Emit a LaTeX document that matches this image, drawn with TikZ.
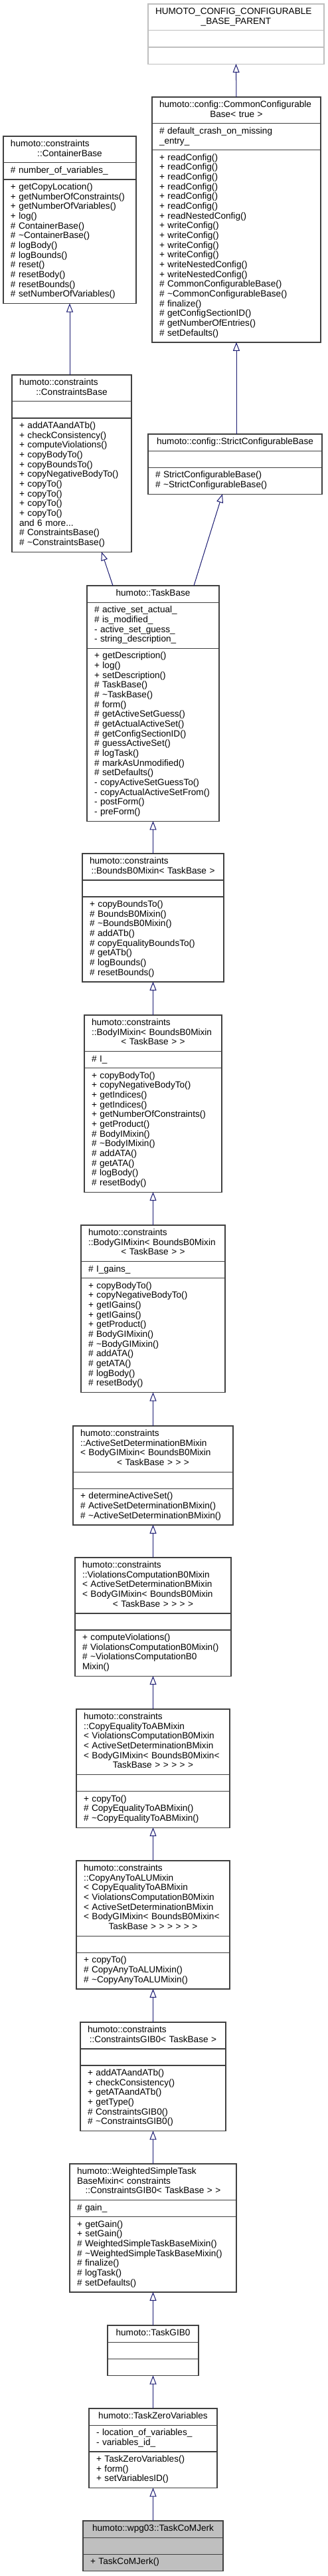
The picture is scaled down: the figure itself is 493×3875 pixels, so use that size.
\documentclass[tikz,border=0pt]{standalone}
\usepackage{fontspec}
\setmainfont{Liberation Sans}
\usetikzlibrary{shapes.multipart,arrows.meta}

\definecolor{boxline}{HTML}{404040}
\definecolor{parentline}{HTML}{BFBFBF}
\definecolor{edgeblue}{HTML}{191970}
\definecolor{current}{HTML}{BFBFBF}

% member lines (public / protected / private) and title lines
\newcommand{\pub}[1]{\mbox{+ #1}}
\newcommand{\prot}[1]{\mbox{\# #1}}
\newcommand{\priv}[1]{\mbox{- #1}}
\newcommand{\hd}[1]{\mbox{#1}}
\newcommand{\hdc}[1]{\hspace*{\fill}\mbox{#1}\hspace*{\fill}}
\newcommand{\umlparts}[3]{\strut#1\strut\nodepart{second}\strut#2\strut\nodepart{third}\strut#3\strut}

\begin{document}
\begin{tikzpicture}[
    x=1pt, y=1pt,
    font=\fontsize{13.6}{14.67}\selectfont,
    umlclass/.style={rectangle split, rectangle split parts=3, draw=boxline, line width=1.3pt, inner xsep=11pt, inner ysep=4.6pt, outer sep=0pt, align=left, anchor=north},
    inherit/.style={-{Triangle[open, length=13pt, width=10pt]}, draw=edgeblue, line width=1pt}
]
\useasboundingbox (0,0) rectangle (493,-3875);

% config branch
\node[umlclass, draw=parentline, text width=243pt] (hcp) at (355.5,-6)
  {\umlparts{\hd{HUMOTO\_CONFIG\_CONFIGURABLE}\\\hdc{\_BASE\_PARENT}}{}{}};
\node[umlclass, text width=232pt] (ccb) at (356,-146)
  {\umlparts{\hd{humoto::config::CommonConfigurable}\\\hdc{Base< true >}}
  {\prot{default\_crash\_on\_missing}\\\hd{\_entry\_}}
  {\pub{readConfig()}\\\pub{readConfig()}\\\pub{readConfig()}\\\pub{readConfig()}\\\pub{readConfig()}\\\pub{readConfig()}\\
   \pub{readNestedConfig()}\\\pub{writeConfig()}\\\pub{writeConfig()}\\\pub{writeConfig()}\\\pub{writeConfig()}\\
   \pub{writeNestedConfig()}\\\pub{writeNestedConfig()}\\\prot{CommonConfigurableBase()}\\
   \prot{\textasciitilde CommonConfigurableBase()}\\\prot{finalize()}\\\prot{getConfigSectionID()}\\
   \prot{getNumberOfEntries()}\\\prot{setDefaults()}}};
\node[umlclass, text width=240pt] (scb) at (354,-653)
  {\umlparts{\hdc{humoto::config::StrictConfigurableBase}}{}
  {\prot{StrictConfigurableBase()}\\\prot{\textasciitilde StrictConfigurableBase()}}};

% constraints branch
\node[umlclass, text width=178pt] (cnb) at (105,-205)
  {\umlparts{\hd{humoto::constraints}\\\hdc{::ContainerBase}}
  {\prot{number\_of\_variables\_}}
  {\pub{getCopyLocation()}\\\pub{getNumberOfConstraints()}\\\pub{getNumberOfVariables()}\\\pub{log()}\\
   \prot{ContainerBase()}\\\prot{\textasciitilde ContainerBase()}\\\prot{logBody()}\\\prot{logBounds()}\\
   \prot{reset()}\\\prot{resetBody()}\\\prot{resetBounds()}\\\prot{setNumberOfVariables()}}};
\node[umlclass, text width=158pt] (ctb) at (108,-564)
  {\umlparts{\hd{humoto::constraints}\\\hdc{::ConstraintsBase}}{}
  {\pub{addATAandATb()}\\\pub{checkConsistency()}\\\pub{computeViolations()}\\\pub{copyBodyTo()}\\
   \pub{copyBoundsTo()}\\\pub{copyNegativeBodyTo()}\\\pub{copyTo()}\\\pub{copyTo()}\\\pub{copyTo()}\\\pub{copyTo()}\\
   \hd{and 6 more...}\\\prot{ConstraintsBase()}\\\prot{\textasciitilde ConstraintsBase()}}};

% task chain
\node[umlclass, text width=177pt] (tb) at (230.5,-881)
  {\umlparts{\hdc{humoto::TaskBase}}
  {\prot{active\_set\_actual\_}\\\prot{is\_modified\_}\\\priv{active\_set\_guess\_}\\\priv{string\_description\_}}
  {\pub{getDescription()}\\\pub{log()}\\\pub{setDescription()}\\\prot{TaskBase()}\\\prot{\textasciitilde TaskBase()}\\
   \prot{form()}\\\prot{getActiveSetGuess()}\\\prot{getActualActiveSet()}\\\prot{getConfigSectionID()}\\
   \prot{guessActiveSet()}\\\prot{logTask()}\\\prot{markAsUnmodified()}\\\prot{setDefaults()}\\
   \priv{copyActiveSetGuessTo()}\\\priv{copyActualActiveSetFrom()}\\\priv{postForm()}\\\priv{preForm()}}};
\node[umlclass, text width=191pt] (bbm) at (230.5,-1284)
  {\umlparts{\hd{humoto::constraints}\\\hdc{::BoundsB0Mixin< TaskBase >}}{}
  {\pub{copyBoundsTo()}\\\prot{BoundsB0Mixin()}\\\prot{\textasciitilde BoundsB0Mixin()}\\\prot{addATb()}\\
   \prot{copyEqualityBoundsTo()}\\\prot{getATb()}\\\prot{logBounds()}\\\prot{resetBounds()}}};
\node[umlclass, text width=185pt] (bim) at (230.5,-1527)
  {\umlparts{\hd{humoto::constraints}\\\hd{::BodyIMixin< BoundsB0Mixin}\\\hdc{< TaskBase > >}}
  {\prot{I\_}}
  {\pub{copyBodyTo()}\\\pub{copyNegativeBodyTo()}\\\pub{getIndices()}\\\pub{getIndices()}\\
   \pub{getNumberOfConstraints()}\\\pub{getProduct()}\\\prot{BodyIMixin()}\\\prot{\textasciitilde BodyIMixin()}\\
   \prot{addATA()}\\\prot{getATA()}\\\prot{logBody()}\\\prot{resetBody()}}};
\node[umlclass, text width=195pt] (bgm) at (230.5,-1843)
  {\umlparts{\hd{humoto::constraints}\\\hd{::BodyGIMixin< BoundsB0Mixin}\\\hdc{< TaskBase > >}}
  {\prot{I\_gains\_}}
  {\pub{copyBodyTo()}\\\pub{copyNegativeBodyTo()}\\\pub{getIGains()}\\\pub{getIGains()}\\\pub{getProduct()}\\
   \prot{BodyGIMixin()}\\\prot{\textasciitilde BodyGIMixin()}\\\prot{addATA()}\\\prot{getATA()}\\
   \prot{logBody()}\\\prot{resetBody()}}};
\node[umlclass, text width=219pt] (asd) at (230.5,-2145)
  {\umlparts{\hd{humoto::constraints}\\\hd{::ActiveSetDeterminationBMixin}\\\hd{< BodyGIMixin< BoundsB0Mixin}\\\hdc{< TaskBase > > >}}{}
  {\pub{determineActiveSet()}\\\prot{ActiveSetDeterminationBMixin()}\\\prot{\textasciitilde ActiveSetDeterminationBMixin()}}};
\node[umlclass, text width=213pt] (vcm) at (230.5,-2343)
  {\umlparts{\hd{humoto::constraints}\\\hd{::ViolationsComputationB0Mixin}\\\hd{< ActiveSetDeterminationBMixin}\\
   \hd{< BodyGIMixin< BoundsB0Mixin}\\\hdc{< TaskBase > > > >}}{}
  {\pub{computeViolations()}\\\prot{ViolationsComputationB0Mixin()}\\\prot{\textasciitilde ViolationsComputationB0}\\\hd{Mixin()}}};
\node[umlclass, text width=209pt] (cem) at (230.5,-2571)
  {\umlparts{\hd{humoto::constraints}\\\hd{::CopyEqualityToABMixin}\\\hd{< ViolationsComputationB0Mixin}\\
   \hd{< ActiveSetDeterminationBMixin}\\\hd{< BodyGIMixin< BoundsB0Mixin<}\\\hdc{TaskBase > > > > >}}{}
  {\pub{copyTo()}\\\prot{CopyEqualityToABMixin()}\\\prot{\textasciitilde CopyEqualityToABMixin()}}};
\node[umlclass, text width=209pt] (cam) at (230.5,-2799)
  {\umlparts{\hd{humoto::constraints}\\\hd{::CopyAnyToALUMixin}\\\hd{< CopyEqualityToABMixin}\\
   \hd{< ViolationsComputationB0Mixin}\\\hd{< ActiveSetDeterminationBMixin}\\\hd{< BodyGIMixin< BoundsB0Mixin<}\\
   \hdc{TaskBase > > > > > >}}{}
  {\pub{copyTo()}\\\prot{CopyAnyToALUMixin()}\\\prot{\textasciitilde CopyAnyToALUMixin()}}};
\node[umlclass, text width=197pt] (cgb) at (230.5,-3042)
  {\umlparts{\hd{humoto::constraints}\\\hdc{::ConstraintsGIB0< TaskBase >}}{}
  {\pub{addATAandATb()}\\\pub{checkConsistency()}\\\pub{getATAandATb()}\\\pub{getType()}\\
   \prot{ConstraintsGIB0()}\\\prot{\textasciitilde ConstraintsGIB0()}}};
\node[umlclass, text width=229pt] (wst) at (230.5,-3255)
  {\umlparts{\hd{humoto::WeightedSimpleTask}\\\hd{BaseMixin< constraints}\\\hdc{::ConstraintsGIB0< TaskBase > >}}
  {\prot{gain\_}}
  {\pub{getGain()}\\\pub{setGain()}\\\prot{WeightedSimpleTaskBaseMixin()}\\\prot{\textasciitilde WeightedSimpleTaskBaseMixin()}\\
   \prot{finalize()}\\\prot{logTask()}\\\prot{setDefaults()}}};
\node[umlclass, text width=115pt] (tgb) at (230.5,-3498)
  {\umlparts{\hdc{humoto::TaskGIB0}}{}{}};
\node[umlclass, text width=171pt] (tzv) at (230.5,-3623)
  {\umlparts{\hdc{humoto::TaskZeroVariables}}
  {\priv{location\_of\_variables\_}\\\priv{variables\_id\_}}
  {\pub{TaskZeroVariables()}\\\pub{form()}\\\pub{setVariablesID()}}};
\node[umlclass, text width=189pt, fill=current] (tcj) at (230.5,-3792)
  {\umlparts{\hdc{humoto::wpg03::TaskCoMJerk}}{}{\pub{TaskCoMJerk()}}};

% inheritance
\draw[inherit] (ccb.north) -- (hcp.south);
\draw[inherit] (ccb.south |- scb.north) -- (ccb.south);
\draw[inherit] (cnb.south |- ctb.north) -- (cnb.south);
\draw[inherit] ([xshift=-60.5pt]tb.north) -- ([xshift=45pt]ctb.south);
\draw[inherit] ([xshift=61.5pt]tb.north) -- ([xshift=-19pt]scb.south);
\draw[inherit] (bbm.north) -- (tb.south);
\draw[inherit] (bim.north) -- (bbm.south);
\draw[inherit] (bgm.north) -- (bim.south);
\draw[inherit] (asd.north) -- (bgm.south);
\draw[inherit] (vcm.north) -- (asd.south);
\draw[inherit] (cem.north) -- (vcm.south);
\draw[inherit] (cam.north) -- (cem.south);
\draw[inherit] (cgb.north) -- (cam.south);
\draw[inherit] (wst.north) -- (cgb.south);
\draw[inherit] (tgb.north) -- (wst.south);
\draw[inherit] (tzv.north) -- (tgb.south);
\draw[inherit] (tcj.north) -- (tzv.south);

\end{tikzpicture}
\end{document}
